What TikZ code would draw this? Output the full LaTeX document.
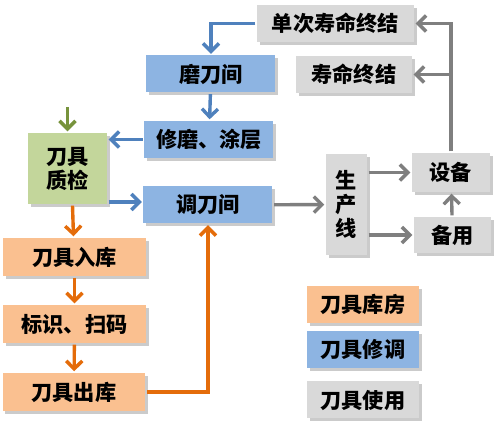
\documentclass[tikz,border=0pt]{standalone}
\usepackage{fontspec}
\setmainfont{Noto Sans CJK SC}
\usetikzlibrary{arrows.meta}
\usetikzlibrary{shadows}
\definecolor{storefill}{HTML}{FAC090}
\definecolor{repairfill}{HTML}{8DB4E2}
\definecolor{usefill}{HTML}{D9D9D9}
\definecolor{checkfill}{HTML}{C3D69B}
\definecolor{storeline}{HTML}{E46C0A}
\definecolor{repairline}{HTML}{4F81BD}
\definecolor{useline}{HTML}{7F7F7F}
\definecolor{checkline}{HTML}{77933C}
\tikzset{
every picture/.style={line width=1.7pt,
                      >={Straight Barb[length=4pt,width=8pt]}},
%%%%%%%%%%  Node styles
box/.style={inner sep=0pt, align=center,
            font=\bfseries\fontsize{10.6}{12}\selectfont,
            drop shadow={shadow xshift=1.3pt, shadow yshift=-1.3pt,
                         fill=black!45, opacity=0.45}},
storebox/.style={box, fill=storefill, minimum width=71.5pt,
                 minimum height=19pt},
repairbox/.style={box, fill=repairfill, minimum width=64.5pt,
                  minimum height=18.5pt},
usebox/.style={box, fill=usefill, minimum height=18.5pt},
legendbox/.style={box, minimum width=56pt, minimum height=18.5pt},
checkbox/.style={box, fill=checkfill, minimum width=39.5pt,
                 minimum height=35.5pt},
%%%% different line styles:
storeflow/.style={->, draw=storeline},
repairflow/.style={->, draw=repairline},
useflow/.style={->, draw=useline},
checkflow/.style={->, draw=checkline}
}

\begin{document}
\begin{tikzpicture}[x=0.5pt,y=-0.5pt]
\useasboundingbox (0,0) rectangle (500,422);
%%%%%%% repair
\node[repairbox] (grind) at (211,74) {磨刀间};
\node[repairbox] (coat) at (209,139.5) {修磨、涂层};
\node[repairbox] (preset) at (208,205) {调刀间};
%%%%%%% check and store
\node[checkbox] (check) at (67.5,168.5) {刀具\\质检};
\coordinate (checkin) at (67.5,107);
\node[storebox] (instore) at (74.5,257) {刀具入库};
\node[storebox] (mark) at (74.5,324) {标识、扫码};
\node[storebox] (outstore) at (74,392) {刀具出库};
%%%%%%% use
\node[usebox, minimum width=78.5pt] (onceend) at (335.5,23.5) {单次寿命终结};
\node[usebox, minimum width=58pt] (lifeend) at (354,74.5) {寿命终结};
\node[usebox, minimum width=20.5pt, minimum height=50.5pt] (line)
     at (346.5,204.5) {生\\产\\线};
\node[usebox, minimum width=39pt, minimum height=19.5pt] (machine)
     at (451,172.5) {设备};
\node[usebox, minimum width=38.5pt, minimum height=18pt] (spare)
     at (452.5,235) {备用};
%%%%%%% legend
\node[legendbox, fill=storefill] (leg1) at (363,304.5) {刀具库房};
\node[legendbox, fill=repairfill] (leg2) at (363,350) {刀具修调};
\node[legendbox, fill=usefill] (leg3) at (363,400) {刀具使用};
%%%%%%% arrows
\draw[repairflow] (onceend.west) -| (grind.north);
\draw[repairflow] (grind) -- (coat);
\draw[repairflow] (coat.west) -- (coat.west -| check.east);
\draw[repairflow] (preset.west -| check.east) ++(0,-3) -- ([yshift=1.5pt]preset.west);
\draw[checkflow] (checkin) -- (check);
\draw[storeflow] ([xshift=2.5pt]check.south) -- ([xshift=-0.5pt]instore.north);
\draw[storeflow] (instore) -- (mark);
\draw[storeflow] (mark) -- (outstore);
\draw[storeflow] (outstore.east) -| (preset.south);
\draw[useflow] (preset) -- (line);
\draw[useflow] (line.east |- machine.west) -- (machine.west);
\draw[useflow] (line.east |- spare.west) -- (spare.west);
\draw[useflow] (spare) -- (machine);
\draw[useflow] (machine.north) |- (onceend.east);
\draw[useflow] (machine.north |- lifeend.east) -- (lifeend.east);
\end{tikzpicture}
\end{document}
